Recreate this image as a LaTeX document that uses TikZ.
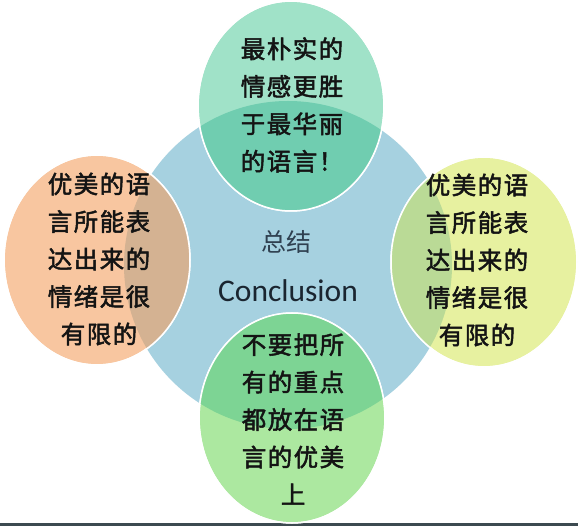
\documentclass[tikz,border=0pt]{standalone}
\usepackage{fontspec}
\usetikzlibrary{shapes.geometric}
\newfontfamily\cjk{Noto Sans CJK SC}
\newfontfamily\cjksat{Noto Sans CJK SC}[LetterSpace=6,FakeBold=2]
\setsansfont{Carlito}
\definecolor{cblue}{RGB}{166,209,224}
\definecolor{topc}{RGB}{160,226,200}
\definecolor{topov}{RGB}{112,205,176}
\definecolor{leftc}{RGB}{248,198,160}
\definecolor{leftov}{RGB}{212,178,146}
\definecolor{rightc}{RGB}{231,241,160}
\definecolor{rightov}{RGB}{186,218,150}
\definecolor{botc}{RGB}{172,232,160}
\definecolor{botov}{RGB}{125,212,148}
\definecolor{darkline}{RGB}{60,74,80}
\definecolor{titlec}{RGB}{47,64,80}
\definecolor{engc}{RGB}{26,37,48}
\begin{document}
\begin{tikzpicture}[x=1pt,y=-1pt,
  sat/.style={ellipse,minimum width=186pt,minimum height=210pt,inner sep=0pt,draw=white,line width=1.5pt},
  sattext/.style={align=center,inner sep=0pt,text=black!92,font=\cjksat\fontsize{24.5}{37.5}\selectfont},
  rim/.style={draw=white,line width=1.5pt}]
\useasboundingbox (0,0) rectangle (578,526);
\fill[white] (0,0) rectangle (578,526);
\fill[darkline] (0,523) rectangle (578,526);
% central circle
\node[circle,minimum size=328pt,inner sep=0pt,fill=cblue] (core) at (288,265) {};
% satellites
\node[sat,fill=topc] (top) at (291,106) {};
\node[sat,fill=leftc] (left) at (97,260) {};
\node[sat,fill=rightc] (right) at (484,262) {};
\node[sat,fill=botc] (bot) at (292,418) {};
% overlaps
\begin{scope}
  \clip (core.center) circle (164);
  \fill[topov] (top.center) ellipse (93 and 105);
  \fill[leftov] (left.center) ellipse (93 and 105);
  \fill[rightov] (right.center) ellipse (93 and 105);
  \fill[botov] (bot.center) ellipse (93 and 105);
\end{scope}
\draw[rim] (top.center) ellipse (93 and 105);
\draw[rim] (left.center) ellipse (93 and 105);
\draw[rim] (right.center) ellipse (93 and 105);
\draw[rim] (bot.center) ellipse (93 and 105);
% texts
\node[sattext] (ttop) at (292,105) {最朴实的\\情感更胜\\于最华丽\\的语言！};
\node[sattext] (tleft) at (99,259) {优美的语\\言所能表\\达出来的\\情绪是很\\有限的};
\node[sattext] (tright) at (477,260) {优美的语\\言所能表\\达出来的\\情绪是很\\有限的};
\node[sattext] (tbot) at (293,419) {不要把所\\有的重点\\都放在语\\言的优美\\上};
\node[text=titlec,font=\cjk\fontsize{25}{28}\selectfont,inner sep=0pt] (title) at (286,242) {总结};
\node[text=engc,font=\sffamily\fontsize{31.5}{36}\selectfont,inner sep=0pt] (eng) at (288,291) {Conclusion};
\end{tikzpicture}
\end{document}
